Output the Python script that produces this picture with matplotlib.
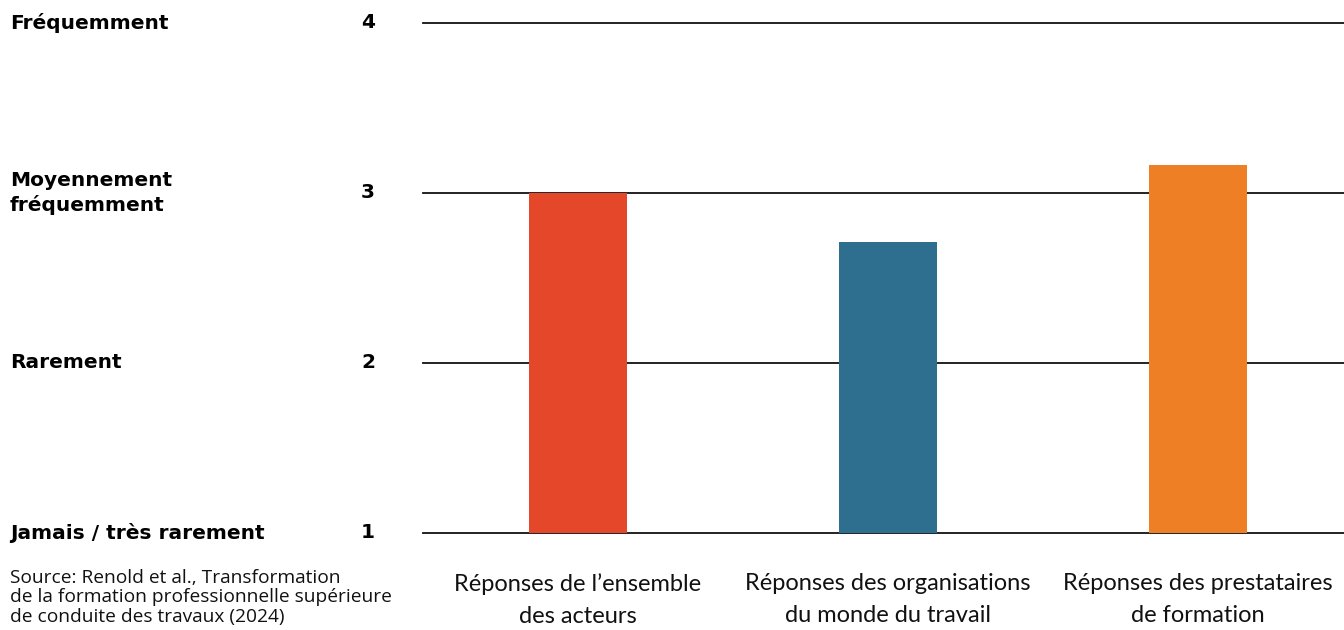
import matplotlib
matplotlib.use("Agg")
import matplotlib.pyplot as plt
import matplotlib.transforms as mtransforms

categories = ["Réponses de l’ensemble\ndes acteurs",
              "Réponses des organisations\ndu monde du travail",
              "Réponses des prestataires\nde formation"]
values = [3.0, 2.71, 3.165]
colors = ["#E5472B", "#2E6E8E", "#EF7F24"]
level_values = [1, 2, 3, 4]
level_labels = ["Jamais / très rarement", "Rarement", "Moyennement\nfréquemment", "Fréquemment"]
source = ("Source: Renold et al., Transformation\n"
          "de la formation professionnelle supérieure\n"
          "de conduite des travaux (2024)")

fig = plt.figure(figsize=(13.44, 6.3), dpi=100)
ax = fig.add_axes([423 / 1344, 97 / 630, 1 - 423 / 1344, (533 - 23) / 630])

x = list(range(len(categories)))
ax.bar(x, values, width=0.316, color=colors, zorder=3)
ax.set_ylim(1, 4)
ax.set_xlim(-0.5, 2.47)
for v in level_values:
    ax.axhline(v, color="#111111", lw=1.3, zorder=2, clip_on=False)

for s in ax.spines.values():
    s.set_visible(False)
ax.set_yticks([])
ax.set_xticks(x)
ax.set_xticklabels(categories, fontsize=17, family="Lato", fontweight="normal",
                   color="#111111", linespacing=1.65)
ax.tick_params(axis="x", length=0, pad=29)

trans = mtransforms.blended_transform_factory(fig.transFigure, ax.transData)
for v, lab in zip(level_values, level_labels):
    fig.text(10 / 1344, v, lab, transform=trans, ha="left", va="center",
             fontsize=14.5, family="DejaVu Sans", fontweight="bold", linespacing=1.35)
    fig.text(368 / 1344, v, str(v), transform=trans, ha="center", va="center",
             fontsize=14.5, family="DejaVu Sans", fontweight="bold")

fig.text(10 / 1344, 1 - 569 / 630, source, ha="left", va="top", fontsize=13.8,
         family="Open Sans", linespacing=1.1, color="#111111")

fig.savefig("out.png", dpi=100, facecolor="white")
